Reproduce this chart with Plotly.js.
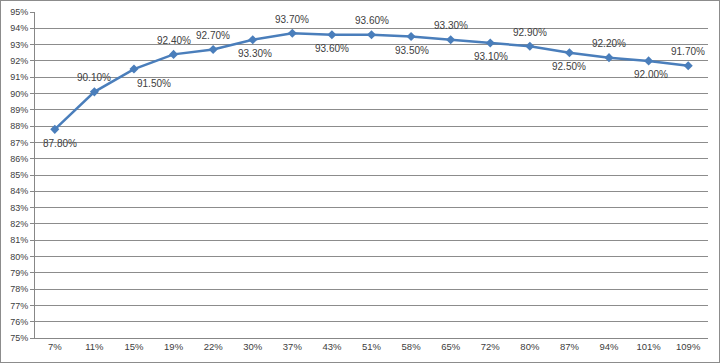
<!DOCTYPE html>
<html>
<head>
<meta charset="utf-8">
<script src="https://cdn.plot.ly/plotly-3.0.1.min.js"></script>
<style>
html,body{margin:0;padding:0;background:#fff;}
#chart{width:718px;height:361px;border:1px solid #8c8c8c;}
</style>
</head>
<body>
<div id="chart"></div>
<script>
const categories = ["7%","11%","15%","19%","22%","30%","37%","43%","51%","58%","65%","72%","80%","87%","94%","101%","109%"];
const values = [0.878,0.901,0.915,0.924,0.927,0.933,0.937,0.936,0.936,0.935,0.933,0.931,0.929,0.925,0.922,0.920,0.917];
const labels = ["87.80%","90.10%","91.50%","92.40%","92.70%","93.30%","93.70%","93.60%","93.60%","93.50%","93.30%","93.10%","92.90%","92.50%","92.20%","92.00%","91.70%"];
// label placement: 1 = above the point, -1 = below
const labelSide = [-1,1,-1,1,1,-1,1,-1,1,-1,1,-1,1,-1,1,-1,1];
const labelDx = [5,0,20,0,0,2,0,0,0,1,0,1,0,0,0,2,0];

const trace = {
  x: categories,
  y: values,
  type: 'scatter',
  mode: 'lines+markers',
  line: {color: '#4a7ebb', width: 2.5},
  marker: {symbol: 'diamond', size: 7, color: '#4a7ebb'},
  hoverinfo: 'skip'
};

const annotations = categories.map((c, i) => ({
  x: c, y: values[i], xref: 'x', yref: 'y',
  text: labels[i], showarrow: false,
  xanchor: 'center', yanchor: 'middle',
  yshift: 14 * labelSide[i], xshift: labelDx[i],
  font: {family: 'Liberation Sans, Arial, sans-serif', size: 10, color: '#404040'}
}));

const layout = {
  width: 718, height: 361,
  margin: {l: 34, r: 11, t: 11, b: 24},
  paper_bgcolor: '#fff',
  plot_bgcolor: '#fff',
  showlegend: false,
  annotations: annotations,
  font: {family: 'Liberation Sans, Arial, sans-serif', size: 9, color: '#404040'},
  xaxis: {
    type: 'category',
    range: [-0.5, 16.5],
    showgrid: false,
    showline: true,
    linecolor: '#878787',
    linewidth: 1,
    ticks: '',
    tickfont: {size: 9.5, color: '#404040'},
    fixedrange: true
  },
  yaxis: {
    range: [0.75, 0.95],
    dtick: 0.01,
    tick0: 0.75,
    tickformat: '.0%',
    showgrid: true,
    gridcolor: '#8c8c8c',
    gridwidth: 1,
    showline: true,
    linecolor: '#878787',
    linewidth: 1,
    ticks: 'outside',
    ticklen: 4,
    tickcolor: '#878787',
    tickfont: {size: 9, color: '#404040'},
    zeroline: false,
    fixedrange: true
  }
};

Plotly.newPlot('chart', [trace], layout, {displayModeBar: false, staticPlot: true});
</script>
</body>
</html>
